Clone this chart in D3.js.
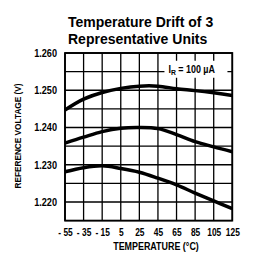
<!DOCTYPE html>
<html>
<head>
<meta charset="utf-8">
<script src="https://cdn.jsdelivr.net/npm/d3@7"></script>
<style>
  body { margin: 0; background: #fff; }
  svg text { font-family: "Liberation Sans", Arial, sans-serif; font-weight: bold; fill: #000; }
</style>
</head>
<body>
<div id="chart"></div>
<script>
// temperature points (°C) and the three units' reference voltage (V)
const temps = [-55, -35, -15, 5, 25, 45, 65, 85, 105, 125];
const unitA = [1.2447, 1.2476, 1.2494, 1.2505, 1.2511, 1.2511, 1.2504, 1.2499, 1.2493, 1.2486];
const unitB = [1.2358, 1.2374, 1.2389, 1.2398, 1.2400, 1.2397, 1.2381, 1.2362, 1.2348, 1.2335];
const unitC = [1.2281, 1.2292, 1.2297, 1.2290, 1.2280, 1.2264, 1.2246, 1.2224, 1.2203, 1.2182];
const xTicks = [-55, -35, -15, 5, 25, 45, 65, 85, 105, 125];
const yGrid = [1.215, 1.220, 1.225, 1.230, 1.235, 1.240, 1.245, 1.250, 1.255, 1.260];
const yLabels = [1.220, 1.230, 1.240, 1.250, 1.260];

const width = 255, height = 264;
const margin = { top: 53, right: 22.7, bottom: 43.4, left: 65 };
const w = width - margin.left - margin.right;
const h = height - margin.top - margin.bottom;

// squeeze text sideways around its own x (the original uses a condensed face)
function condense(sel, k) {
  sel.attr("transform", function () {
    const x0 = +this.getAttribute("x") || 0;
    return "translate(" + x0 * (1 - k) + ",0) scale(" + k + ",1)";
  });
}

const svg = d3.select("#chart").append("svg")
  .attr("width", width)
  .attr("height", height);

svg.append("text").attr("x", 68).attr("y", 27).style("font-size", "14px").text("Temperature Drift of 3");
svg.append("text").attr("x", 68).attr("y", 43.5).style("font-size", "14px").text("Representative Units");

const g = svg.append("g").attr("transform", "translate(" + margin.left + "," + margin.top + ")");

const x = d3.scaleLinear().domain([-55, 125]).range([0, w]);
const y = d3.scaleLinear().domain([1.215, 1.260]).range([h, 0]);

// grid
g.selectAll(".vgrid").data(xTicks).enter().append("line")
  .attr("x1", d => x(d)).attr("x2", d => x(d))
  .attr("y1", 0).attr("y2", h)
  .attr("stroke", "#000").attr("stroke-width", 1.3);
g.selectAll(".hgrid").data(yGrid).enter().append("line")
  .attr("x1", 0).attr("x2", w)
  .attr("y1", d => y(d)).attr("y2", d => y(d))
  .attr("stroke", "#000").attr("stroke-width", 1.3);

// frame
g.append("rect").attr("width", w).attr("height", h)
  .attr("fill", "none").attr("stroke", "#000").attr("stroke-width", 1.8);

// annotation box over the grid
const note = g.append("g").attr("transform", "translate(" + x(52) + "," + y(1.2555) + ")");
note.append("rect").attr("x", 0).attr("y", -9).attr("width", 63).attr("height", 17).attr("fill", "#fff");
const nt = note.append("text").attr("x", 4).attr("y", 3.5).style("font-size", "10.5px");
nt.append("tspan").text("I");
nt.append("tspan").attr("dy", 2).style("font-size", "8px").text("R");
nt.append("tspan").attr("dy", -2).text(" = 100 \u00b5A");
condense(nt, 0.85);

// curves
const line = d3.line()
  .x((d, i) => x(temps[i]))
  .y(d => y(d))
  .curve(d3.curveCatmullRom.alpha(0.5));

[unitA, unitB, unitC].forEach(s => {
  g.append("path").attr("d", line(s))
    .attr("fill", "none").attr("stroke", "#000").attr("stroke-width", 3.5)
    .attr("stroke-linecap", "butt");
});

// axes labels
const xAxis = d3.axisBottom(x).tickValues(xTicks).tickSize(0).tickPadding(8)
  .tickFormat(d => d < 0 ? "- " + Math.abs(d) : d);
const xa = g.append("g").attr("transform", "translate(0," + h + ")").call(xAxis);
xa.select(".domain").remove();
xa.selectAll("text").style("font-size", "10.5px").style("font-family", null).call(condense, 0.8);

const yAxis = d3.axisLeft(y).tickValues(yLabels).tickSize(0).tickPadding(8)
  .tickFormat(d3.format(".3f"));
const ya = g.append("g").call(yAxis);
ya.select(".domain").remove();
ya.selectAll("text").style("font-size", "10.5px").style("font-family", null).call(condense, 0.87);

svg.append("text").attr("x", 156).attr("y", 250)
  .attr("text-anchor", "middle").style("font-size", "10.5px")
  .text("TEMPERATURE (\u00b0C)")
  .call(condense, 0.85);

svg.append("text")
  .attr("transform", "translate(21,136) rotate(-90) scale(0.87,1)")
  .attr("text-anchor", "middle").style("font-size", "9.5px")
  .text("REFERENCE VOLTAGE (V)");
</script>
</body>
</html>
